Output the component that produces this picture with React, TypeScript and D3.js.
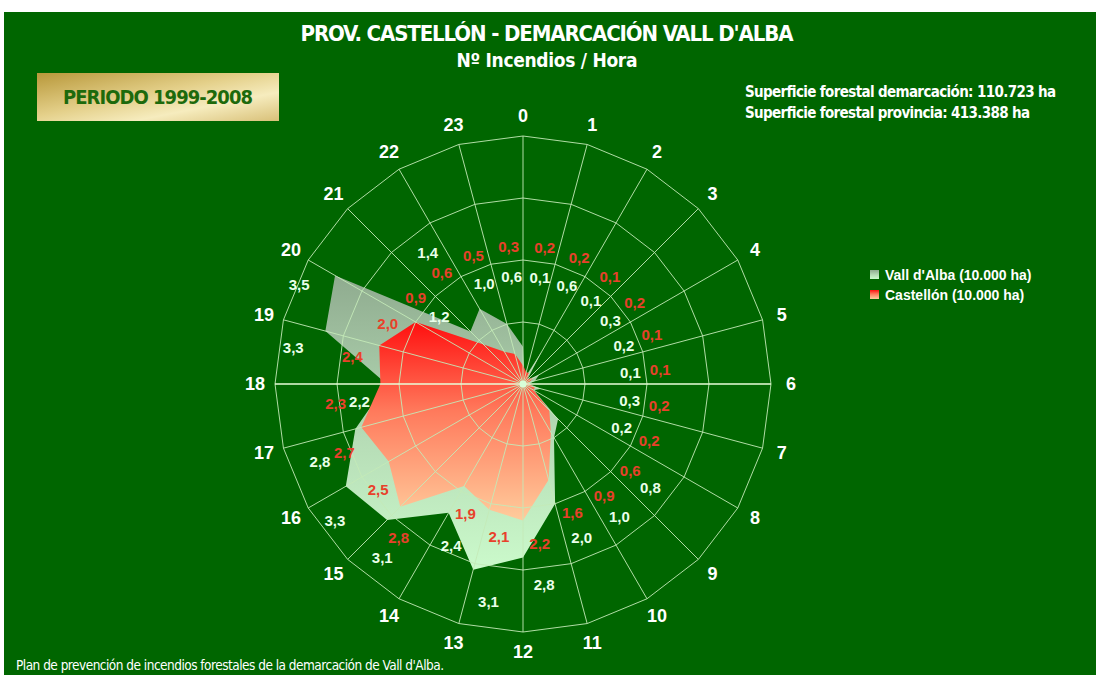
import React, { useEffect, useRef } from "react";
import * as d3 from "d3";

// horas del dia (0 arriba, sentido horario)
const hours = ["0", "1", "2", "3", "4", "5", "6", "7", "8", "9", "10", "11",
  "12", "13", "14", "15", "16", "17", "18", "19", "20", "21", "22", "23"];

// nº incendios / hora por cada 10.000 ha
const vallDAlba = [0.6, 0.1, 0.6, 0.1, 0.3, 0.2, 0.1, 0.3, 0.2, 0.8, 1.0, 2.0,
  2.8, 3.1, 2.4, 3.1, 3.3, 2.8, 2.2, 3.3, 3.5, 1.2, 1.4, 1.0];
const castellon = [0.3, 0.2, 0.2, 0.1, 0.2, 0.1, 0.1, 0.2, 0.2, 0.6, 0.9, 1.6,
  2.2, 2.1, 1.9, 2.8, 2.5, 2.7, 2.3, 2.4, 2.0, 0.9, 0.6, 0.5];

const ringTicks = [1, 2, 3, 4];
const seriesNames = ["Vall d'Alba (10.000 ha)", "Castellón (10.000 ha)"];

const title = "PROV. CASTELLÓN - DEMARCACIÓN VALL D'ALBA";
const subtitle = "Nº Incendios / Hora";
const periodo = "PERIODO 1999-2008";
const superficie = [
  "Superficie forestal demarcación: 110.723 ha",
  "Superficie forestal provincia: 413.388 ha",
];
const footer = "Plan de prevención de incendios forestales de la demarcación de Vall d'Alba.";

const NARROW = "'Liberation Sans Narrow', 'Arial Narrow', 'DejaVu Sans Condensed', sans-serif";
const SANS = "'Liberation Sans', Arial, sans-serif";

export default function App() {
  const ref = useRef<SVGSVGElement>(null);

  useEffect(() => {
    const svg = d3.select(ref.current);
    svg.selectAll("*").remove();

    const width = 1096, height = 675;
    const cx = 523, cy = 384, R = 248;

    const defs = svg.append("defs");
    const grad = (id: string, stops: [number, string][], x2 = 0, y2 = 1) => {
      const g = defs.append("linearGradient").attr("id", id)
        .attr("x1", 0).attr("y1", 0).attr("x2", x2).attr("y2", y2);
      stops.forEach(([o, c]) => g.append("stop").attr("offset", o).attr("stop-color", c));
    };
    grad("gVall", [[0, "#8fab8f"], [0.55, "#b6dcb6"], [1, "#cbfacb"]]);
    grad("gCast", [[0, "#ff0f0f"], [0.45, "#ff7a5c"], [1, "#ffcc9c"]]);
    grad("gGold", [[0, "#b8983a"], [0.45, "#e4d08a"], [0.7, "#f6ecbe"], [1, "#d8c078"]], 1, 1);

    // fondo
    svg.append("rect").attr("width", width).attr("height", height).attr("fill", "#fff");
    svg.append("rect").attr("x", 4).attr("y", 12).attr("width", width - 4).attr("height", height - 12)
      .attr("fill", "#006600");

    const r = d3.scaleLinear().domain([0, 4]).range([0, R]);
    const ang = d3.scaleLinear().domain([0, hours.length]).range([0, 2 * Math.PI]);
    const px = (a: number, rr: number) => cx + rr * Math.sin(a);
    const py = (a: number, rr: number) => cy - rr * Math.cos(a);

    const radar = d3.lineRadial<number>()
      .angle((_, i) => ang(i))
      .radius(d => r(d))
      .curve(d3.curveLinearClosed);

    const g = svg.append("g").attr("transform", `translate(${cx},${cy})`);

    g.append("path").attr("d", radar(vallDAlba)).attr("fill", "url(#gVall)");
    g.append("path").attr("d", radar(castellon)).attr("fill", "url(#gCast)");

    // rejilla
    ringTicks.forEach(t => {
      g.append("path")
        .attr("d", radar(hours.map(() => t)))
        .attr("fill", "none")
        .attr("stroke", "#c4eab8")
        .attr("stroke-width", 0.9);
    });
    hours.forEach((h, i) => {
      if (i % 6 === 0) return;
      g.append("line")
        .attr("x1", 0).attr("y1", 0)
        .attr("x2", r(4) * Math.sin(ang(i))).attr("y2", -r(4) * Math.cos(ang(i)))
        .attr("stroke", "#c4eab8").attr("stroke-width", 0.9);
    });
    [0, 6].forEach(i => {
      const a = ang(i);
      g.append("line")
        .attr("x1", -r(4) * Math.sin(a)).attr("y1", r(4) * Math.cos(a))
        .attr("x2", r(4) * Math.sin(a)).attr("y2", -r(4) * Math.cos(a))
        .attr("stroke", i === 6 ? "#e8ffd8" : "#c4eab8")
        .attr("stroke-width", i === 6 ? 1.6 : 0.9);
    });
    g.append("circle").attr("r", 3.5).attr("fill", "#d8ffd8");

    // etiquetas de hora
    hours.forEach((h, i) => {
      svg.append("text")
        .attr("x", px(ang(i), 268)).attr("y", py(ang(i), 268))
        .attr("text-anchor", "middle").attr("dominant-baseline", "central")
        .attr("fill", "#fff").attr("font-family", SANS).attr("font-weight", "bold")
        .attr("font-size", 18).text(h);
    });

    // etiquetas de datos
    const fmt = (v: number) => d3.format(".1f")(v).replace(".", ",");
    const off = -6 * Math.PI / 180;
    hours.forEach((h, i) => {
      const w = vallDAlba[i], c = castellon[i];
      const a = ang(i) + off;
      let wr = Math.max(r(w) + 28, 108);
      let cr = Math.max(r(c) + 24, 138);
      const lower = Math.cos(ang(i)) < 0;
      if (lower && w > c && w >= 0.5 && wr < cr + 24) wr = cr + 26;
      else if (Math.abs(wr - cr) < 24) {
        if (w >= c) wr = cr + 24; else cr = wr + 24;
      }
      [[w, wr, "#eaffea"], [c, cr, "#e8412b"]].forEach(([v, rr, col]) => {
        svg.append("text")
          .attr("x", px(a, rr as number)).attr("y", py(a, rr as number))
          .attr("text-anchor", "middle").attr("dominant-baseline", "central")
          .attr("fill", col as string).attr("font-family", SANS).attr("font-weight", "bold")
          .attr("font-size", 15).text(fmt(v as number));
      });
    });

    // titulos
    svg.append("text").attr("x", 547).attr("y", 41).attr("text-anchor", "middle")
      .attr("fill", "#fff").attr("font-family", NARROW).attr("font-weight", "bold")
      .attr("font-size", 22).attr("textLength", 493).text(title);
    svg.append("text").attr("x", 547).attr("y", 67).attr("text-anchor", "middle")
      .attr("fill", "#fff").attr("font-family", NARROW).attr("font-weight", "bold")
      .attr("font-size", 19).attr("textLength", 181).text(subtitle);

    // caja periodo
    svg.append("rect").attr("x", 37).attr("y", 73).attr("width", 242).attr("height", 48)
      .attr("fill", "url(#gGold)");
    svg.append("text").attr("x", 158).attr("y", 104).attr("text-anchor", "middle")
      .attr("fill", "#1d6a0c").attr("font-family", NARROW).attr("font-weight", "bold")
      .attr("font-size", 20).attr("textLength", 190).text(periodo);

    superficie.forEach((s, i) => {
      svg.append("text").attr("x", 745).attr("y", 97 + i * 21)
        .attr("fill", "#fff").attr("font-family", NARROW).attr("font-weight", "bold")
        .attr("font-size", 15).attr("textLength", i === 0 ? 311 : 285).text(s);
    });

    // leyenda
    const legFill = ["url(#gVall)", "url(#gCast)"];
    seriesNames.forEach((s, i) => {
      svg.append("rect").attr("x", 870).attr("y", 270 + i * 20).attr("width", 9).attr("height", 9)
        .attr("fill", legFill[i]);
      svg.append("text").attr("x", 885).attr("y", 280 + i * 20)
        .attr("fill", "#fff").attr("font-family", SANS).attr("font-weight", "bold")
        .attr("font-size", 14).text(s);
    });

    svg.append("text").attr("x", 16).attr("y", 670)
      .attr("fill", "#fff").attr("font-family", NARROW)
      .attr("font-size", 13.5).attr("textLength", 428).text(footer);
  }, []);

  return (
    <svg ref={ref} width={1096} height={675}
      style={{ position: "absolute", left: 0, top: 0, display: "block" }} />
  );
}
